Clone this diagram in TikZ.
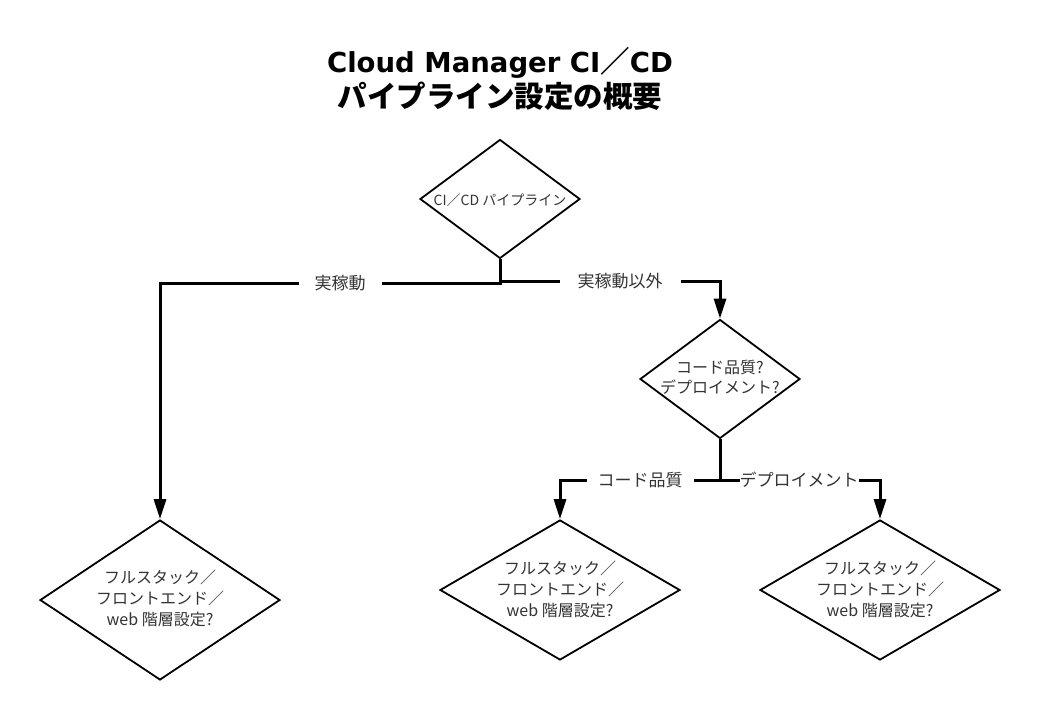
\documentclass[tikz,border=0pt]{standalone}
\usepackage{fontspec}
\setmainfont{Noto Sans CJK JP}
\newfontfamily\latinttl{DejaVu Sans}
\usetikzlibrary{arrows.meta,shapes.geometric}
\begin{document}
\begin{tikzpicture}[x=1pt,y=-1pt,
  dia/.style={draw=black, line width=1.8pt, shape=diamond, inner sep=0pt},
  conn/.style={line width=3pt, -{Triangle[length=20pt,width=12pt]}},
  lbl/.style={fill=white, font=\fontsize{17}{20}\selectfont, text=black!80, inner ysep=2pt},
  dtxt/.style={font=\fontsize{16}{21}\selectfont, align=center, text=black!80},
  ttl/.style={font=\bfseries\fontsize{29.5}{34}\selectfont, anchor=base}
]
\useasboundingbox (0,0) rectangle (1040,720);
\node[ttl] (t1) at (500,72) {{\latinttl\bfseries\fontsize{27.5}{30}\selectfont Cloud Manager CI}／{\latinttl\bfseries\fontsize{27.5}{30}\selectfont CD}};
\node[ttl] (t2) at (500,107) {パイプライン設定の概要};

\node[dia, minimum width=160pt, minimum height=119pt] (d0) at (500,199) {};
\node[dtxt, font=\fontsize{14}{18}\selectfont] (d0t) at (500,200) {CI／CD パイプライン};

\node[dia, minimum width=160pt, minimum height=119pt] (d1) at (720,379) {};
\node[dtxt, font=\fontsize{16}{20}\selectfont] (d1t) at (720,377) {コード品質?\\デプロイメント?};

\node[dia, minimum width=240pt, minimum height=160pt] (d2) at (160,600) {};
\node[dtxt] (d2t) at (160,598) {フルスタック／\\フロントエンド／\\web 階層設定?};

\node[dia, minimum width=240pt, minimum height=140pt] (d3) at (560,590) {};
\node[dtxt] (d3t) at (560,589) {フルスタック／\\フロントエンド／\\web 階層設定?};

\node[dia, minimum width=240pt, minimum height=140pt] (d4) at (880,590) {};
\node[dtxt] (d4t) at (880,589) {フルスタック／\\フロントエンド／\\web 階層設定?};

\coordinate (j0) at (500,283);
\coordinate (j1) at (500,281);
\coordinate (j2) at (720,480);
\draw[conn] (d0.south) -- (j0) -| (d2.north);
\draw[conn] (d0.south) -- (j1) -| (d1.north);
\draw[conn] (d1.south) -- (j2) -| (d3.north);
\draw[conn] (d1.south) -- (j2) -| (d4.north);

\node[lbl, inner xsep=16pt] (l1) at (340,283) {実稼動};
\node[lbl, inner xsep=18pt] (l2) at (620,281) {実稼動以外};
\node[lbl, inner xsep=11pt] (l3) at (640,480) {コード品質};
\node[lbl, inner xsep=0pt] (l4) at (799,480) {デプロイメント};
\end{tikzpicture}
\end{document}
